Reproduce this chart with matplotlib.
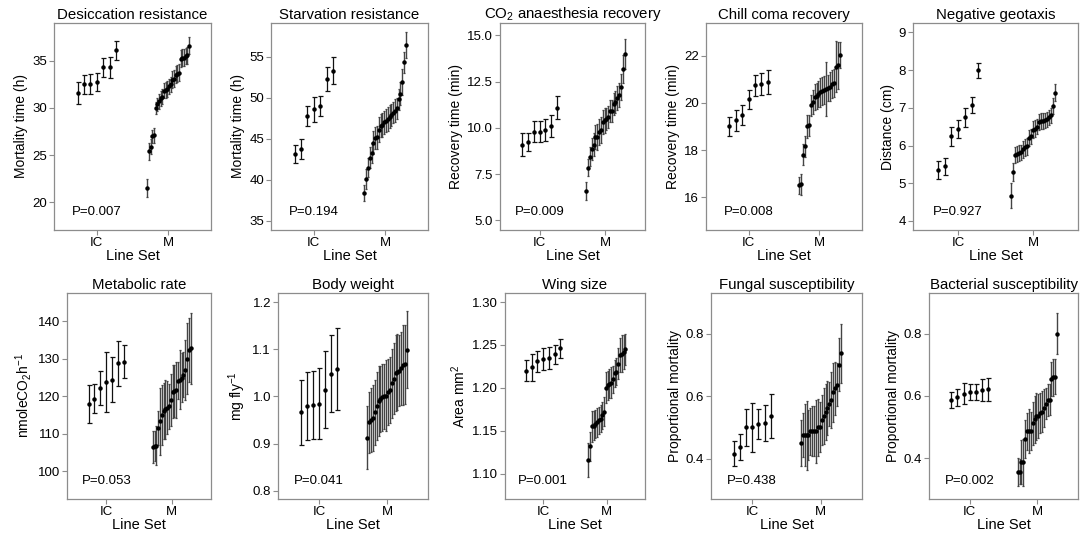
import numpy as np
import matplotlib
matplotlib.use("Agg")
import matplotlib.pyplot as plt
from matplotlib.ticker import FormatStrFormatter

plt.rcParams['font.family'] = ['Liberation Sans', 'DejaVu Sans']
plt.rcParams['mathtext.fontset'] = 'custom'
plt.rcParams['mathtext.rm'] = 'Liberation Sans'
plt.rcParams['mathtext.it'] = 'Liberation Sans:italic'

groups = ['IC', 'M']

# desiccation resistance
desic_ic = [31.6, 32.5, 32.5, 32.7, 34.3, 34.3, 36.1]
desic_ic_err = [1.15, 1.0, 1.05, 0.95, 1.0, 1.1, 1.0]
desic_m = [21.5, 25.4, 25.9, 27.0, 27.1, 30.0, 30.4, 30.7, 31.0, 31.2, 31.8, 31.9, 32.0,
           32.3, 32.5, 33.0, 33.1, 33.5, 33.6, 33.7, 35.2, 35.3, 35.3, 35.5, 35.6, 36.6]
desic_m_err = [1.0, 0.9, 0.8, 0.7, 0.8, 0.6, 0.7, 0.8, 0.8, 0.8, 0.8, 0.8, 0.8,
               0.8, 0.8, 0.9, 0.9, 0.9, 0.9, 0.9, 0.9, 0.9, 0.9, 0.9, 0.9, 0.9]

# starvation resistance
starv_ic = [43.1, 43.8, 47.8, 48.6, 49.0, 52.3, 53.3]
starv_ic_err = [1.1, 1.2, 1.25, 1.55, 1.25, 1.45, 1.65]
starv_m = [38.4, 40.1, 41.5, 42.7, 43.3, 44.5, 45.1, 45.2, 46.1, 46.6, 46.7, 47.0,
           47.2, 47.4, 47.7, 47.9, 48.2, 48.4, 48.7, 49.8, 50.5, 51.9, 54.3, 56.4]
starv_m_err = [1.0, 1.2, 1.2, 1.3, 1.2, 1.4, 1.3, 1.4, 1.5, 1.4, 1.5, 1.4,
               1.4, 1.5, 1.4, 1.3, 1.3, 1.4, 1.3, 1.3, 1.4, 1.6, 1.3, 1.6]

# CO2 anaesthesia recovery
co2_ic = [9.1, 9.25, 9.8, 9.8, 9.9, 10.1, 11.1]
co2_ic_err = [0.6, 0.5, 0.55, 0.55, 0.6, 0.6, 0.6]
co2_m = [6.6, 7.85, 8.45, 8.85, 9.1, 9.5, 9.5, 9.8, 9.9, 10.3, 10.4, 10.5, 10.6,
         10.9, 10.9, 11.3, 11.4, 11.6, 11.8, 12.2, 13.2, 14.0]
co2_m_err = [0.5, 0.45, 0.5, 0.6, 0.6, 0.65, 0.7, 0.7, 0.7, 0.65, 0.65, 0.6, 0.6,
             0.6, 0.6, 0.6, 0.6, 0.65, 0.65, 0.7, 0.75, 0.8]

# chill coma recovery
chill_ic = [19.0, 19.27, 19.5, 20.15, 20.75, 20.8, 20.9]
chill_ic_err = [0.42, 0.45, 0.42, 0.42, 0.45, 0.48, 0.5]
chill_m = [16.5, 16.55, 17.8, 18.15, 19.0, 19.05, 19.9, 20.05, 20.25, 20.3, 20.4,
           20.45, 20.5, 20.55, 20.6, 20.65, 20.7, 20.8, 20.85, 21.55, 21.6, 22.05]
chill_m_err = [0.35, 0.45, 0.45, 0.45, 0.5, 0.45, 0.45, 0.5, 0.55, 0.55, 0.55,
               0.6, 0.6, 0.6, 1.15, 0.55, 0.6, 0.6, 0.6, 1.1, 1.0, 0.55]

# negative geotaxis
geo_ic = [5.35, 5.45, 6.25, 6.43, 6.75, 7.07, 8.0]
geo_ic_err = [0.24, 0.23, 0.25, 0.24, 0.25, 0.22, 0.2]
geo_m = [4.67, 5.3, 5.75, 5.78, 5.8, 5.82, 5.9, 5.95, 5.98, 6.2, 6.25, 6.42,
         6.45, 6.5, 6.62, 6.65, 6.65, 6.67, 6.7, 6.75, 6.8, 7.05, 7.4]
geo_m_err = [0.33, 0.25, 0.22, 0.22, 0.22, 0.2, 0.22, 0.22, 0.22, 0.2, 0.2, 0.22,
             0.22, 0.2, 0.22, 0.22, 0.22, 0.2, 0.2, 0.2, 0.2, 0.22, 0.22]

# metabolic rate
metab_ic = [118.0, 119.4, 122.3, 123.8, 124.5, 128.8, 129.3]
metab_ic_err = [5.0, 3.8, 4.6, 8.0, 6.0, 6.0, 4.5]
metab_m = [106.5, 106.7, 106.8, 111.5, 113.3, 115.0, 116.0, 116.5, 117.0, 117.3, 119.0,
           121.3, 121.5, 121.7, 124.2, 124.5, 125.0, 125.8, 127.0, 130.1, 132.3, 132.8]
metab_m_err = [4.2, 4.0, 5.2, 4.5, 9.0, 8.0, 7.5, 8.0, 7.0, 6.0, 7.0,
               7.0, 7.0, 7.5, 5.0, 8.0, 6.5, 6.0, 8.0, 9.5, 8.5, 9.5]

# body weight
weight_ic = [0.966, 0.980, 0.982, 0.985, 1.014, 1.048, 1.058]
weight_ic_err = [0.069, 0.072, 0.073, 0.075, 0.082, 0.082, 0.087]
weight_m = [0.912, 0.945, 0.950, 0.955, 0.966, 0.980, 0.990, 0.995, 0.998, 1.000, 1.002,
            1.010, 1.013, 1.028, 1.038, 1.050, 1.052, 1.055, 1.060, 1.067, 1.068, 1.099]
weight_m_err = [0.067, 0.065, 0.068, 0.07, 0.07, 0.073, 0.075, 0.07, 0.072, 0.07, 0.075,
                0.07, 0.07, 0.073, 0.075, 0.08, 0.08, 0.075, 0.078, 0.085, 0.085, 0.082]

# wing size
wing_ic = [1.220, 1.224, 1.231, 1.234, 1.235, 1.239, 1.246]
wing_ic_err = [0.012, 0.016, 0.012, 0.013, 0.013, 0.011, 0.011]
wing_m = [1.116, 1.132, 1.155, 1.156, 1.158, 1.160, 1.162, 1.164, 1.168, 1.172, 1.200,
          1.203, 1.205, 1.206, 1.210, 1.217, 1.219, 1.228, 1.238, 1.240, 1.242, 1.245]
wing_m_err = [0.02, 0.017, 0.018, 0.017, 0.016, 0.017, 0.016, 0.016, 0.016, 0.017, 0.018,
              0.017, 0.017, 0.018, 0.016, 0.016, 0.016, 0.018, 0.02, 0.022, 0.02, 0.018]

# fungal susceptibility
fung_ic = [0.415, 0.437, 0.500, 0.500, 0.511, 0.513, 0.537]
fung_ic_err = [0.04, 0.042, 0.06, 0.078, 0.049, 0.058, 0.071]
fung_m = [0.450, 0.475, 0.475, 0.475, 0.475, 0.487, 0.487, 0.487, 0.487, 0.500, 0.500,
          0.525, 0.537, 0.550, 0.562, 0.575, 0.587, 0.612, 0.625, 0.637, 0.700, 0.737]
fung_m_err = [0.075, 0.07, 0.1, 0.11, 0.08, 0.075, 0.08, 0.08, 0.1, 0.09, 0.08,
              0.08, 0.09, 0.09, 0.085, 0.07, 0.09, 0.095, 0.085, 0.07, 0.085, 0.095]

# bacterial susceptibility
bact_ic = [0.587, 0.596, 0.608, 0.612, 0.613, 0.619, 0.622]
bact_ic_err = [0.025, 0.028, 0.035, 0.025, 0.025, 0.035, 0.037]
bact_m = [0.356, 0.358, 0.388, 0.388, 0.462, 0.487, 0.487, 0.488, 0.512, 0.525, 0.535,
          0.537, 0.545, 0.550, 0.562, 0.575, 0.587, 0.588, 0.655, 0.660, 0.662, 0.800]
bact_m_err = [0.045, 0.04, 0.07, 0.075, 0.06, 0.06, 0.07, 0.06, 0.07, 0.075, 0.075,
              0.07, 0.065, 0.065, 0.06, 0.05, 0.05, 0.05, 0.055, 0.06, 0.055, 0.065]

titles = ['Desiccation resistance', 'Starvation resistance', r'CO$_2$ anaesthesia recovery',
          'Chill coma recovery', 'Negative geotaxis', 'Metabolic rate', 'Body weight',
          'Wing size', 'Fungal susceptibility', 'Bacterial susceptibility']
ylabels = ['Mortality time (h)', 'Mortality time (h)', 'Recovery time (min)',
           'Recovery time (min)', 'Distance (cm)', r'nmoleCO$_2$h$^{-1}$', r'mg fly$^{-1}$',
           r'Area mm$^2$', 'Proportional mortality', 'Proportional mortality']
pvalues = ['P=0.007', 'P=0.194', 'P=0.009', 'P=0.008', 'P=0.927',
           'P=0.053', 'P=0.041', 'P=0.001', 'P=0.438', 'P=0.002']

panels = [
    (desic_ic, desic_ic_err, desic_m, desic_m_err),
    (starv_ic, starv_ic_err, starv_m, starv_m_err),
    (co2_ic, co2_ic_err, co2_m, co2_m_err),
    (chill_ic, chill_ic_err, chill_m, chill_m_err),
    (geo_ic, geo_ic_err, geo_m, geo_m_err),
    (metab_ic, metab_ic_err, metab_m, metab_m_err),
    (weight_ic, weight_ic_err, weight_m, weight_m_err),
    (wing_ic, wing_ic_err, wing_m, wing_m_err),
    (fung_ic, fung_ic_err, fung_m, fung_m_err),
    (bact_ic, bact_ic_err, bact_m, bact_m_err),
]

# axis ranges / tick layout per panel
ylims = [(17.05, 39.0), (33.9, 59.1), (4.48, 15.67), (14.6, 23.4), (3.76, 9.25),
         (92.6, 147.6), (0.782, 1.22), (1.0705, 1.3105), (0.271, 0.93), (0.27, 0.93)]
yticks = [[20, 25, 30, 35], [35, 40, 45, 50, 55], [5.0, 7.5, 10.0, 12.5, 15.0],
          [16, 18, 20, 22], [4, 5, 6, 7, 8, 9], [100, 110, 120, 130, 140],
          [0.8, 0.9, 1.0, 1.1, 1.2], [1.10, 1.15, 1.20, 1.25, 1.30],
          [0.4, 0.6, 0.8], [0.4, 0.6, 0.8]]
yfmts = ['%d', '%d', '%.1f', '%d', '%d', '%d', '%.1f', '%.2f', '%.1f', '%.1f']

# panel boxes in pixels (x0, x1, ytop, ybottom)
W, H = 1086, 534
boxes = [(54, 211, 23, 230), (271, 428, 23, 230), (500, 645, 23, 230),
         (706, 862, 23, 230), (913, 1078, 23, 230),
         (67, 211, 293, 499), (278, 428, 293, 499), (505, 645, 293, 499),
         (711, 862, 293, 499), (929, 1078, 293, 499)]

fig = plt.figure(figsize=(W / 100, H / 100), dpi=100)
edge = '#8c8c8c'

for i in range(10):
    x0, x1, yt, yb = boxes[i]
    ax = fig.add_axes([x0 / W, 1 - yb / H, (x1 - x0) / W, (yb - yt) / H])
    ic, ic_err, m, m_err = panels[i]

    xi = 0 + np.linspace(-0.27, 0.27, len(ic))
    xm = 1 + np.linspace(-0.29, 0.29, len(m))
    ax.errorbar(xi, ic, yerr=ic_err, fmt='o', color='black', ms=2.2,
                elinewidth=0.9, capsize=1.8, capthick=0.9, ecolor='#111111')
    ax.errorbar(xm, m, yerr=m_err, fmt='o', color='black', ms=2.2,
                elinewidth=1.0, capsize=0.8, capthick=0.9, ecolor='#444444')

    ax.set_xlim(-0.6, 1.6)
    ax.set_ylim(*ylims[i])
    ax.set_xticks([0, 1])
    ax.set_xticklabels(groups)
    ax.set_yticks(yticks[i])
    ax.yaxis.set_major_formatter(FormatStrFormatter(yfmts[i]))
    ax.tick_params(direction='out', length=3.5, width=0.8, color=edge,
                   labelsize=9.5, labelcolor='black', pad=1.5)
    for s in ax.spines.values():
        s.set_color(edge)
        s.set_linewidth(0.9)

    ax.set_title(titles[i], fontsize=10.8, pad=3)
    ax.set_ylabel(ylabels[i], fontsize=10, labelpad=3)
    ax.set_xlabel('Line Set', fontsize=10.5, labelpad=0)
    ax.text(0, 0.06, pvalues[i], transform=ax.get_xaxis_transform(),
            ha='center', va='bottom', fontsize=9.5)

fig.savefig('out.png', dpi=100, facecolor='white')
